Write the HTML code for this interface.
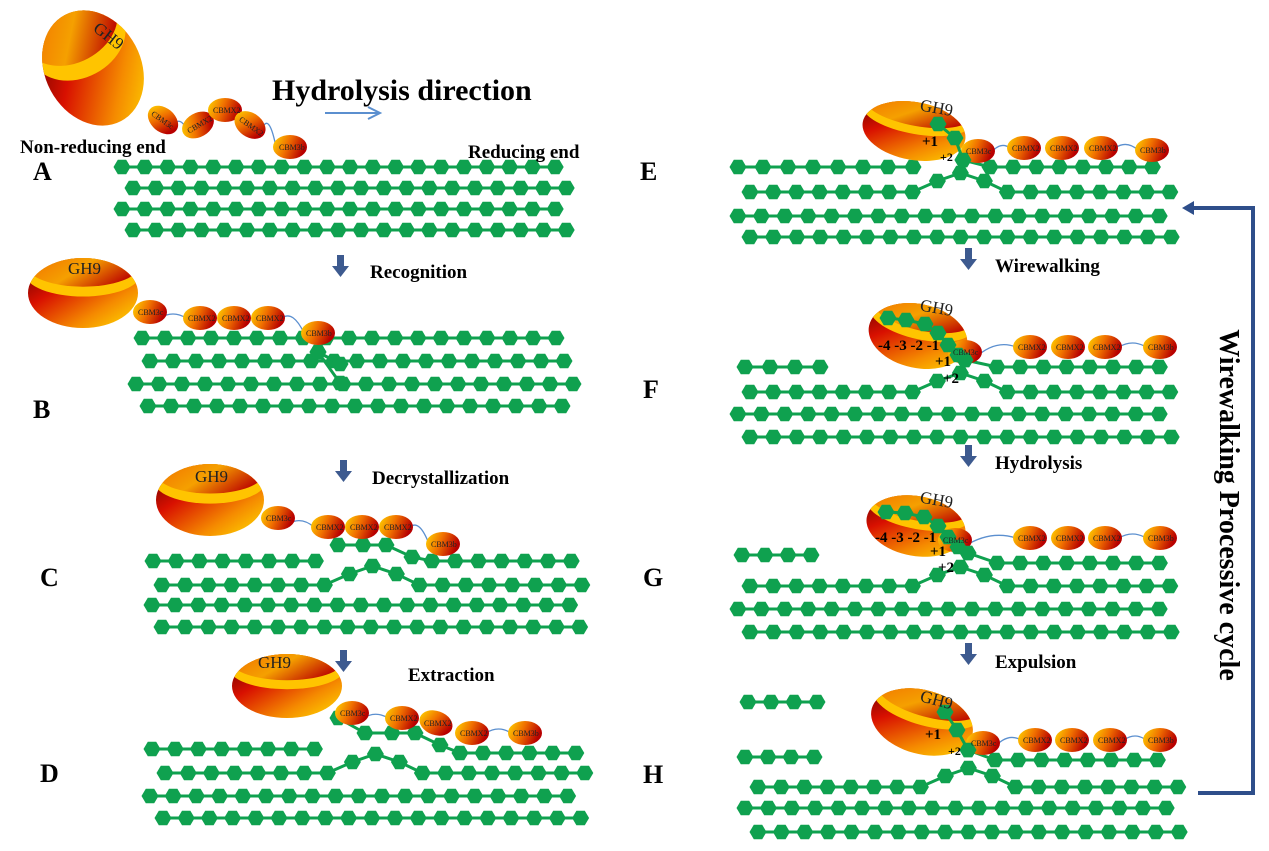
<!DOCTYPE html>
<html><head><meta charset="utf-8"><style>
body{margin:0;background:#fff;}
svg{display:block;}
text{font-family:"Liberation Serif",serif;font-weight:bold;}
.cb{font-size:8px;font-weight:normal;fill:#222;}
.lab{font-size:26px;}
.st{font-size:19px;}
.gh{font-size:17px;font-weight:normal;fill:#222;}
.nm{font-size:15px;fill:#000;}
</style></head><body>
<svg id="s" width="1269" height="851" viewBox="0 0 1269 851" xmlns="http://www.w3.org/2000/svg">
<defs>
<linearGradient id="body" x1="0" y1="0" x2="1" y2="1">
<stop offset="0" stop-color="#5a0000"/><stop offset="0.35" stop-color="#d81000"/><stop offset="0.7" stop-color="#f58a00"/><stop offset="1" stop-color="#ffe000"/></linearGradient>
<linearGradient id="cap" x1="0" y1="0" x2="1" y2="0.6">
<stop offset="0" stop-color="#f06000"/><stop offset="0.6" stop-color="#f5a000"/><stop offset="1" stop-color="#c01000"/></linearGradient>
<linearGradient id="cbm" x1="0" y1="0" x2="1" y2="0.3">
<stop offset="0" stop-color="#ffd800"/><stop offset="0.5" stop-color="#f07000"/><stop offset="1" stop-color="#b80000"/></linearGradient>
</defs>
<g id="chains"></g>
<g id="enz"></g>
<g id="cbms"></g>
<g id="top"></g>
<g fill="#3d5a8f">
<rect x="337" y="255" width="7" height="12"/><polygon points="332,266 349,266 340.5,277"/>
<rect x="340" y="460" width="7" height="12"/><polygon points="335,471 352,471 343.5,482"/>
<rect x="340" y="650" width="7" height="12"/><polygon points="335,661 352,661 343.5,672"/>
<rect x="965" y="248" width="7" height="12"/><polygon points="960,259 977,259 968.5,270"/>
<rect x="965" y="445" width="7" height="12"/><polygon points="960,456 977,456 968.5,467"/>
<rect x="965" y="643" width="7" height="12"/><polygon points="960,654 977,654 968.5,665"/>
</g>
<line x1="325" y1="113" x2="378" y2="113" stroke="#5b8fcf" stroke-width="2"/>
<polyline points="368,107 380,113 368,119" fill="none" stroke="#5b8fcf" stroke-width="2"/>
<polyline points="1198,793 1253,793 1253,208 1190,208" fill="none" stroke="#2e4e8a" stroke-width="4"/>
<polygon points="1182,208 1194,201 1194,215" fill="#2e4e8a"/>
<text x="272" y="100" style="font-size:30px">Hydrolysis direction</text>
<text x="20" y="153" class="st">Non-reducing end</text>
<text x="468" y="158" class="st">Reducing end</text>
<text x="370" y="278" class="st">Recognition</text>
<text x="372" y="484" class="st">Decrystallization</text>
<text x="408" y="681" class="st">Extraction</text>
<text x="995" y="272" class="st">Wirewalking</text>
<text x="995" y="469" class="st">Hydrolysis</text>
<text x="995" y="668" class="st">Expulsion</text>
<text x="33" y="180" class="lab">A</text>
<text x="33" y="418" class="lab">B</text>
<text x="40" y="586" class="lab">C</text>
<text x="40" y="782" class="lab">D</text>
<text x="640" y="180" class="lab">E</text>
<text x="643" y="398" class="lab">F</text>
<text x="643" y="586" class="lab">G</text>
<text x="643" y="783" class="lab">H</text>
<text transform="translate(1220,505) rotate(90)" text-anchor="middle" style="font-size:28px">Wirewalking Processive cycle</text>
<g id="txt">
<text x="95" y="38" class="gh" transform="rotate(38 105 30)">GH9</text>
<text x="68" y="274" class="gh">GH9</text>
<text x="195" y="482" class="gh">GH9</text>
<text x="258" y="668" class="gh">GH9</text>
<text x="920" y="113" class="gh" transform="rotate(10 935 108)">GH9</text>
<text x="920" y="313" class="gh" transform="rotate(10 935 308)">GH9</text>
<text x="920" y="505" class="gh" transform="rotate(10 935 500)">GH9</text>
<text x="920" y="705" class="gh" transform="rotate(15 935 700)">GH9</text>
</g>
<g>
<text x="922" y="146" class="nm">+1</text><text x="940" y="161" class="nm" style="font-size:12px">+2</text>
<text x="878" y="350" class="nm">-4 -3 -2 -1</text><text x="935" y="366" class="nm">+1</text><text x="943" y="383" class="nm">+2</text>
<text x="875" y="542" class="nm">-4 -3 -2 -1</text><text x="930" y="556" class="nm">+1</text><text x="938" y="572" class="nm">+2</text>
<text x="925" y="739" class="nm">+1</text><text x="948" y="755" class="nm" style="font-size:12px">+2</text>
</g>
<g id="cbmt">
<text x="150" y="123" class="cb" transform="rotate(35 163 120)">CBM3c</text>
<text x="186" y="128" class="cb" transform="rotate(-30 198 125)">CBMX2</text>
<text x="213" y="113" class="cb">CBMX2</text>
<text x="238" y="128" class="cb" transform="rotate(35 250 125)">CBMX2</text>
<text x="279" y="150" class="cb">CBM3b</text>
<text x="138" y="315" class="cb">CBM3c</text><text x="188" y="321" class="cb">CBMX2</text><text x="222" y="321" class="cb">CBMX2</text><text x="256" y="321" class="cb">CBMX2</text><text x="306" y="336" class="cb">CBM3b</text>
<text x="266" y="521" class="cb">CBM3c</text><text x="316" y="530" class="cb">CBMX2</text><text x="350" y="530" class="cb">CBMX2</text><text x="384" y="530" class="cb">CBMX2</text><text x="431" y="547" class="cb">CBM3b</text>
<text x="340" y="716" class="cb">CBM3c</text><text x="390" y="721" class="cb">CBMX2</text><text x="424" y="726" class="cb">CBMX2</text><text x="460" y="736" class="cb">CBMX2</text><text x="513" y="736" class="cb">CBM3b</text>
<text x="966" y="154" class="cb">CBM3c</text><text x="1012" y="151" class="cb">CBMX2</text><text x="1050" y="151" class="cb">CBMX2</text><text x="1089" y="151" class="cb">CBMX2</text><text x="1140" y="153" class="cb">CBM3b</text>
<text x="953" y="355" class="cb">CBM3c</text><text x="1018" y="350" class="cb">CBMX2</text><text x="1056" y="350" class="cb">CBMX2</text><text x="1093" y="350" class="cb">CBMX2</text><text x="1148" y="350" class="cb">CBM3b</text>
<text x="943" y="543" class="cb">CBM3c</text><text x="1018" y="541" class="cb">CBMX2</text><text x="1056" y="541" class="cb">CBMX2</text><text x="1093" y="541" class="cb">CBMX2</text><text x="1148" y="541" class="cb">CBM3b</text>
<text x="971" y="746" class="cb">CBM3c</text><text x="1023" y="743" class="cb">CBMX2</text><text x="1060" y="743" class="cb">CBMX2</text><text x="1098" y="743" class="cb">CBMX2</text><text x="1148" y="743" class="cb">CBM3b</text>
</g>
</svg>
<script>
var NS="http://www.w3.org/2000/svg";
function el(p,t,a){var e=document.createElementNS(NS,t);for(var k in a)e.setAttribute(k,a[k]);p.appendChild(e);return e;}
var C=document.getElementById('chains'),E=document.getElementById('enz'),B=document.getElementById('cbms'),T=document.getElementById('top');
function hex(g,x,y){el(g,'polygon',{points:[x-8.5,y,x-4.2,y-7.3,x+4.2,y-7.3,x+8.5,y,x+4.2,y+7.3,x-4.2,y+7.3].join(','),fill:'#0fa14f'});}
function ch(pts,g){g=g||C;el(g,'polyline',{points:pts.map(function(p){return p.join(',')}).join(' '),fill:'none',stroke:'#0fa14f','stroke-width':3});pts.forEach(function(p){hex(g,p[0],p[1]);});}
function L(x,y,n,sp){sp=sp||23.2;var r=[];for(var i=0;i<n;i++)r.push([x+i*sp,y]);return r;}
function pk(x,y,n1,n2,sp){sp=sp||23.2;var a=L(x,y,n1,sp);var lx=x+(n1-1)*sp;a.push([lx+25,y-11],[lx+48,y-19],[lx+72,y-11]);return a.concat(L(lx+95,y,n2,sp));}
// A
ch(L(122,167,20,22.8));ch(L(133,188,20,22.8));ch(L(122,209,20,22.8));ch(L(133,230,20,22.8));
// B
ch(L(142,338,19,23));ch(L(150,361,19,23));ch(L(136,384,20,23));ch(L(148,406,19,23));ch([[318,352],[340,364]]);ch([[318,352],[340,383]]);
// C
ch(L(153,561,8));ch([[338,545],[363,545],[386,545],[412,557]].concat(L(432,561,7)));
ch(pk(162,585,8,8));ch(L(152,605,19));ch(L(162,627,19));
// D
ch(L(152,749,8));ch([[338,718],[365,733],[392,733],[415,733],[440,745],[460,753]].concat(L(483,753,5)));
ch(pk(165,773,8,8));ch(L(150,796,19));ch(L(163,818,19));
// E
ch(L(738,167,8,25));ch([[963,160]].concat(L(990,167,8)));ch(pk(750,192,8,8));ch(L(738,216,19,23.4));ch(L(750,237,19,23.4));
ch([[938,124],[955,138],[963,160]],T);
// F
ch(L(745,367,4,25));ch([[965,360]].concat(L(997,367,8)));ch(pk(750,392,8,8));ch(L(738,414,19,23.4));ch(L(750,437,19,23.4));
ch([[888,318],[906,320],[925,324],[938,333],[948,345],[958,355],[965,360]],T);
// G
ch(L(742,555,4,23));ch([[968,553]].concat(L(997,563,8)));ch(pk(750,586,8,8));ch(L(738,609,19,23.4));ch(L(750,632,19,23.4));
ch([[886,512],[905,513],[924,517],[938,526],[948,537],[958,547],[968,553]],T);
// H
ch(L(748,702,4,23));ch(L(745,757,4,23));ch([[968,750]].concat(L(995,760,8)));ch(pk(758,787,8,8));ch(L(745,808,19,23.4));ch(L(758,832,19,23.4));
ch([[945,712],[957,730],[968,750]],T);
var ids=0;
function enz(cx,cy,rx,ry,rot){var g=el(E,'g',{transform:'translate('+cx+','+cy+') rotate('+rot+')'});var id='c'+(ids++);
var cp=el(g,'clipPath',{id:id});el(cp,'ellipse',{cx:0,cy:0,rx:rx,ry:ry});
el(g,'ellipse',{cx:0,cy:0,rx:rx,ry:ry,fill:'url(#body)'});
var k=el(g,'g',{'clip-path':'url(#'+id+')'});
el(k,'ellipse',{cx:0,cy:-ry*0.55,rx:rx*1.05,ry:ry*0.65,fill:'#ffc400'});
el(k,'ellipse',{cx:0,cy:-ry*0.78,rx:rx*1.02,ry:ry*0.6,fill:'url(#cap)'});}
enz(93,68,48,60,-28);enz(83,293,55,35,0);enz(210,500,54,36,0);enz(287,686,55,32,0);
enz(914,131,52,29,10);enz(918,336,50,32,12);enz(916,526,50,30,10);enz(922,722,52,32,15);
function cbm(x,y,r){el(B,'ellipse',{cx:x,cy:y,rx:17,ry:12,fill:'url(#cbm)',transform:'rotate('+(r||0)+' '+x+' '+y+')'});}
function lk(a,b,c,d){el(B,'path',{d:'M'+a+','+b+' Q'+((a+c)/2)+','+(Math.min(b,d)-8)+' '+c+','+d,fill:'none',stroke:'#5b8fcf','stroke-width':1.3});}
var cs=[[[163,120,40],[198,125,-30],[225,110,0],[250,125,35],[290,147,0]],
[[150,312],[200,318],[234,318],[268,318],[318,333]],
[[278,518],[328,527],[362,527],[396,527],[443,544]],
[[352,713],[402,718],[436,723,20],[472,733],[525,733]],
[[978,151],[1024,148],[1062,148],[1101,148],[1152,150]],
[[965,352],[1030,347],[1068,347],[1105,347],[1160,347]],
[[955,540],[1030,538],[1068,538],[1105,538],[1160,538]],
[[983,743],[1035,740],[1072,740],[1110,740],[1160,740]]];
cs.forEach(function(s){lk(s[0][0]+10,s[0][1]+6,s[1][0]-14,s[1][1]);lk(s[3][0]+14,s[3][1],s[4][0]-14,s[4][1]);s.forEach(function(c){cbm(c[0],c[1],c[2]);});});
</script>
</body></html>
